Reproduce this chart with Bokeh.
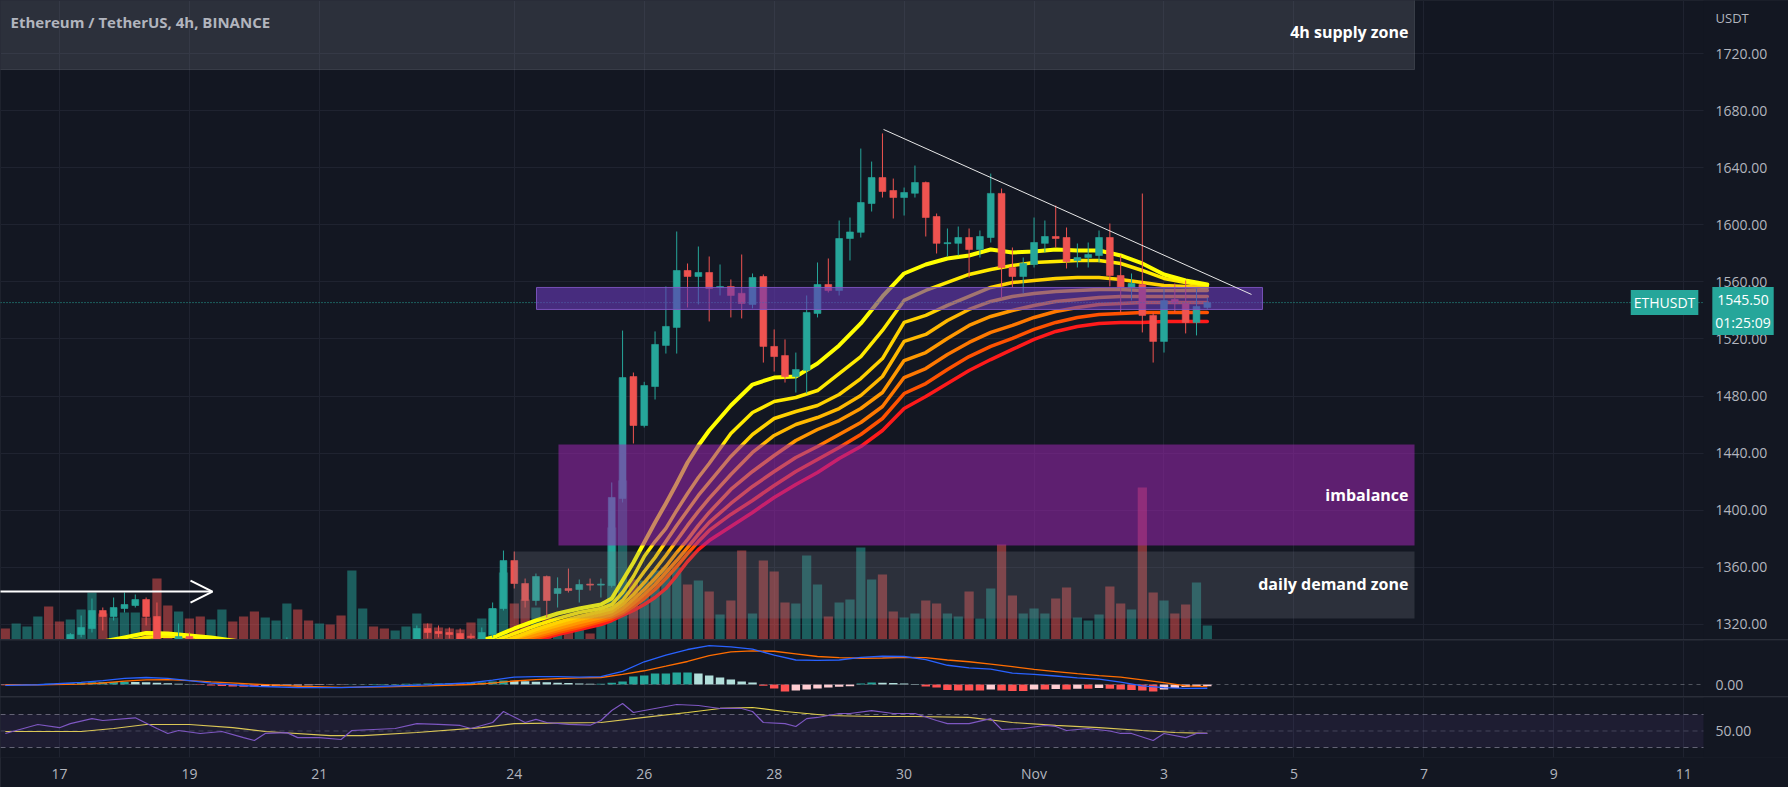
import numpy as np
import pandas as pd
from bokeh.plotting import figure
from bokeh.layouts import column
from bokeh.models import (Range1d, FixedTicker, NumeralTickFormatter, BoxAnnotation,
                          Label, Arrow, OpenHead, ColumnDataSource, Grid)
from bokeh.embed import file_html
from bokeh.resources import INLINE

BG = "#131722"; GRID = "#1f2330"; TXT = "#b2b5be"; TEAL = "#26a69a"; RED = "#ef5350"
FONT = "Open Sans"

# ---------------- data: ETHUSDT 4h candles, 2022-10-16 04:00 .. 2022-11-03 16:00 ----------------
times = pd.date_range("2022-10-16 04:00", "2022-11-03 16:00", freq="4h")

open_ = [1302,1301,1304,1306,1308,1302, 1300,1313.0,1317.2,1329.8,1325.6,1331.2,
         1333.3,1337.5,1325.6,1306,1300,1311.6, 1306,1297,1301,1305,1299,1291,
         1283,1290,1294,1298,1288,1285, 1289,1286,1276,1297,1300,1298,
         1296,1299,1303,1317.2,1315.1,1314.4, 1313.7,1311.8,1308,1313.0,1331.2,1364.8,
         1348.7,1336.8,1353.6,1341.7,1345.2,1344.5, 1348.3,1347.7,1347.3,1408.3,1493.7,1459.4,
         1486.7,1515.5,1528.1,1568.0,1563.8,1566.6, 1556.0,1556.8,1552.0,1544.2,1563.8,1514.8,
         1508.4,1493.7,1498.0,1537.9,1558.2,1554.0, 1590.4,1594.7,1614.9,1633.1,1624.0,1619.1,
         1622.1,1629.6,1605.8,1587.1,1587.0,1591.1, 1582.7,1591.1,1622.0,1570.1,1563.8,1572.2,
         1587.0,1591.8,1591.1,1575.0,1577.1,1578.5, 1591.1,1564.5,1556.1,1558.2,1536.5,1518.3,
         1547.7,1544.9,1531.6,1542.1]
high = [1306,1305,1307,1308.5,1309,1305, 1314,1326.3,1338.2,1331.9,1338.9,1342.4,
        1341.0,1338.9,1335.4,1309,1320.7,1314.4, 1308,1303,1307,1307,1301,1294,
        1292,1296,1311,1301,1291,1291, 1292,1288,1300,1304,1302,1300,
        1301,1306,1319.3,1320.7,1319.3,1317.9, 1317.2,1313.7,1317.9,1335.4,1371.8,1371.1,
        1352.2,1355.7,1354.3,1353.0,1359.2,1351.5, 1352.2,1352.2,1419.5,1525.9,1496.5,1490.0,
        1525.3,1556.8,1595.3,1572.9,1584.8,1577.8, 1572.2,1561.7,1579.2,1565.9,1565.2,1526.7,
        1519.7,1510.5,1550.5,1573.6,1576.4,1603.0, 1605.1,1653.4,1644.3,1664.0,1632.4,1626.1,
        1641.5,1630.3,1607.9,1597.4,1598.8,1597.4, 1596.0,1635.9,1625.4,1584.1,1577.1,1605.1,
        1603.0,1613.5,1598.1,1586.9,1587.6,1596.0, 1600.9,1578.5,1565.9,1621.9,1538.6,1555.4,
        1558.9,1561.0,1555.4,1549.1]
low = [1298,1299,1301,1303,1300,1298, 1298,1311,1314.4,1315.8,1322.8,1328.4,
       1331.9,1319.3,1302,1294,1297,1301, 1295,1293,1298,1297,1288,1280,
       1281,1288,1290,1285,1282,1283, 1283,1272,1273,1294,1296,1294,
       1295,1297,1301,1310.2,1310.9,1310.2, 1306,1308,1305,1310.9,1329.8,1345.2,
       1331.9,1333.3,1324.9,1331.9,1342.4,1335.4, 1343.8,1338.9,1345.9,1405.5,1446.8,1458.0,
       1477.6,1509.8,1509.8,1542.1,1544.2,1532.3, 1550.5,1535.1,1534.4,1541.4,1503.5,1497.2,
       1489.5,1482.5,1481.8,1535.1,1552.6,1550.5, 1575.0,1591.1,1609.3,1619.1,1604.4,1606.5,
       1619.1,1591.8,1579.9,1577.8,1578.5,1563.1, 1577.1,1587.6,1548.4,1556.1,1551.9,1570.1,
       1580.6,1584.1,1569.4,1570.1,1570.1,1573.6, 1556.8,1538.6,1547.0,1524.6,1503.5,1510.5,
       1538.6,1523.9,1522.5,1540.7]
close = [1301,1304,1306,1308,1302,1300, 1313.0,1317.9,1329.8,1325.6,1331.9,1334.0,
         1337.5,1325.6,1306,1298,1311.6,1306, 1297,1301,1305,1299,1291,1283,
         1290,1294,1298,1288,1285,1289, 1286,1276,1297,1300,1298,1296,
         1299,1303,1317.2,1314.4,1313.7,1313.0, 1309.5,1310.9,1314.4,1331.2,1364.8,1348.7,
         1336.8,1353.6,1336.8,1345.2,1343.8,1348.0, 1347.7,1348.3,1409.0,1493.0,1459.4,1487.4,
         1516.2,1528.8,1568.0,1563.8,1566.6,1555.4, 1556.8,1550.5,1544.9,1563.1,1514.8,1507.7,
         1493.7,1498.6,1538.6,1558.2,1554.0,1590.4, 1595.0,1615.6,1633.1,1623.3,1619.1,1622.6,
         1629.6,1605.1,1587.0,1587.5,1591.1,1582.7, 1591.8,1622.0,1570.1,1563.8,1572.9,1587.6,
         1591.8,1590.4,1574.3,1577.1,1579.2,1591.1, 1564.5,1556.1,1558.9,1536.5,1518.3,1546.9,
         1544.9,1531.6,1542.8,1545.5]
# volume (k ETH)
volume = [11,16,13,23,33,18, 20,30,47,26,22,27, 27,22,61,34,28,21, 23,20,30,18,23,28,
          22,19,36,30,19,16, 15,24,69,31,13,11, 9,13,26,16,12,11, 10,17,21,31,67,36,
          40,32,22,19,11,14, 6,19,112,159,60,59, 69,72,72,55,59,48, 25,39,89,26,79,68,
          37,36,84,55,23,37, 40,92,60,65,28,22, 26,39,36,26,23,48, 21,51,95,44,26,31,
          26,41,52,22,19,25, 53,36,30,152,47,39, 26,35,57,14]

# EMA ribbon (8 lines, fast -> slow), sampled at bar numbers (1 = first bar)
rib_n = [8,10,12,14,16,18,20,22,24,28,32,36,40,
         44,46,48,50,52,54,56,57,58,59,60,61,62,63,64,65,66,
         68,70,72,74,76,78,80,82,84,86,88,90,92,94,96,98,100,102,104,106,108,110,112]
rib_1 = [1305.3,1308.1,1310.9,1314.0,1313.7,1312.3,1310.9,1308.8,1306.7,1302,1299,1300,1303,
         1307.4,1310.9,1317.2,1322.8,1327.7,1331.2,1334.0,1338.2,1350.8,1363.4,1377.4,1391.5,1404.8,1418.8,1433.5,1445.4,1455.9,
         1473.4,1488.1,1493.0,1493.7,1502.8,1515.5,1530.9,1549.8,1565.9,1572.2,1576.4,1578.5,1582.7,1580.6,1581.3,1582.7,1582.0,1582.0,1578.5,1572.9,1565.2,1561.0,1558.2]
rib_2 = [1302,1305,1308,1311,1312,1311.5,1310,1308,1306,1303,1300,1300,1302,
         1305.3,1308.1,1313.7,1319.3,1324.2,1328.4,1331.2,1334.0,1342.4,1353.6,1367.6,1378.1,1387.3,1399.9,1411.8,1423.0,1432.8,
         1453.8,1468.5,1476.2,1479.0,1483.9,1495.8,1507.7,1526.0,1547.0,1554.0,1559.6,1565.2,1568.7,1571.5,1573.6,1574.3,1575.0,1575.0,1572.9,1568.0,1562.4,1559.6,1557.5]
rib_3 = [1299,1302,1305,1307,1308.5,1308.5,1308,1307,1305,1303,1300,1299,1300,
         1303.2,1306.0,1310.9,1316.5,1321.4,1325.6,1329.1,1331.2,1336.8,1346.6,1357.1,1366.9,1378.1,1389.4,1399.9,1410.4,1419.5,
         1437.7,1453.1,1464.3,1469.2,1473.4,1481.1,1492.3,1506.3,1531.6,1536.5,1543.5,1549.8,1556.1,1559.6,1561.0,1562.4,1563.1,1563.1,1561.7,1559.6,1557.5,1556.8,1556.1]
rib_4 = [1297,1300,1302,1304,1305.5,1306,1306,1305.5,1304.5,1302.5,1300,1298.5,1299.5,
         1302.5,1305.3,1310.2,1315.1,1319.3,1323.5,1327.0,1329.1,1334.0,1341.0,1349.4,1358.5,1368.3,1378.8,1389.4,1399.2,1408.3,
         1425.1,1440.5,1452.4,1460.1,1465.0,1471.3,1480.4,1493.7,1518.3,1523.2,1533.0,1540.7,1546.3,1549.8,1551.9,1553.3,1554.0,1554.7,1554.7,1554.0,1554.0,1554.0,1554.0]
rib_5 = [1295,1297.5,1300,1302,1303,1304,1304.5,1304,1303.5,1302,1300,1298.5,1299,
         1301.8,1304.6,1308.8,1313.0,1317.2,1321.4,1324.9,1327.0,1331.2,1337.5,1344.5,1352.2,1360.6,1370.4,1379.5,1389.4,1398.5,
         1414.6,1427.2,1438.4,1448.9,1456.6,1462.9,1471.3,1482.5,1504.9,1510.5,1520.4,1529.5,1535.8,1540.0,1543.5,1546.3,1547.7,1549.1,1549.8,1549.8,1549.8,1549.8,1549.8]
rib_6 = [1293,1295.5,1297.5,1299.5,1300.5,1301.5,1302,1302,1302,1301,1299.5,1298,1298.5,
         1300.4,1303.2,1307.4,1311.6,1315.8,1319.3,1323.5,1325.6,1329.1,1334.7,1341.0,1348.0,1356.4,1364.8,1373.9,1383.1,1391.5,
         1404.8,1416.7,1427.2,1437.0,1444.7,1453.1,1461.5,1472.7,1493.0,1499.3,1509.1,1517.6,1524.6,1529.5,1535.1,1539.3,1542.1,1544.2,1544.9,1545.6,1545.6,1545.6,1545.6]
rib_7 = [1291,1293,1295,1297,1298,1299,1300,1300,1300,1299.5,1298.5,1297.5,1297.5,
         1299.0,1301.8,1306.0,1310.2,1314.4,1317.9,1322.1,1324.2,1327.7,1332.6,1338.2,1344.5,1352.2,1360.6,1369.7,1378.1,1385.9,
         1397.1,1406.9,1417.4,1427.2,1435.6,1444.0,1453.1,1464.3,1481.8,1488.8,1498.6,1507.7,1514.8,1520.4,1526.7,1531.6,1535.1,1537.2,1537.9,1538.6,1538.6,1538.6,1538.6]
rib_8 = [1289,1291,1293,1295,1296,1297,1298,1298,1298.5,1298,1297.5,1296.5,1296.5,
         1297.6,1300.4,1304.6,1308.8,1313.0,1316.5,1320.0,1322.8,1326.3,1329.8,1334.0,1338.9,1345.2,1354.3,1364.1,1372.5,1378.8,
         1388.7,1398.5,1409.0,1418.1,1426.5,1436.3,1444.7,1455.9,1471.3,1479.7,1488.8,1497.9,1505.6,1512.7,1519.7,1525.3,1528.8,1530.9,1531.6,1531.6,1532.3,1532.3,1532.3]

# MACD pane
macd_n = [1,4,8,10,12,14,16,18,20,24,28,32,36,40,44,46,48,50,52,54,56,
          58,60,62,64,66,68,70,72,74,76,78,80,82,84,86,88,90,92,94,96,98,100,102,104,106,108,110,112]
macd_line = [-1.1,-0.3,2.5,4.5,7,8,7,4.5,1.5,-2,-3.5,-3.5,-2,-0.5,2,5,8.5,9.1,9,8.5,9,
             15,26,33.5,40,44.5,43,40.5,33.5,28,27.5,28,31,32.3,32,28.5,22,19,17.5,13,11.5,9.7,7.5,6.2,2.8,-1.5,-3.5,-4.5,-4.3]
signal_line = [-0.3,-0.5,0.5,1.7,3.8,5.4,5.6,4.5,3,0.5,-2,-3.3,-2.6,-1.6,0,1.5,4,5.5,6.8,7.5,8,
               11.6,15.7,20.9,26.3,33,37.3,38.5,38,35,32,30.7,30,30.3,31,30.8,28,26,23.2,20.4,17.2,14.8,12.4,10.2,8.5,5.4,2.2,-1.6,-2.4]
macd_hist = [-0.8,-0.6,-0.4,0.3,0.8,1.2,1.5,2.0,2.5,2.8,3.0,3.2,
             3.0,2.6,2.0,1.4,0.8,0.2,-0.6,-1.2,-1.8,-2.2,-2.5,-2.6,
             -2.3,-1.9,-1.5,-1.2,-0.9,-0.6,-0.4,-0.2,0.2,0.4,0.5,0.6,
             0.7,0.8,1.0,1.1,1.2,1.4,1.6,1.9,2.3,3.5,4.5,4.2,
             3.8,3.2,2.5,2.0,1.6,1.2,0.9,1.0,2.0,3.4,9.1,10.3,
             12.6,12.6,13.7,13.7,12.6,10.3,8.0,5.7,3.4,2.3,-1.5,-4.6,
             -8.0,-6.9,-5.7,-4.6,-3.4,-2.7,-2.0,1.1,2.3,2.0,1.8,1.1,
             0.6,-2.3,-3.4,-6.3,-6.9,-6.9,-6.9,-5.7,-6.9,-7.4,-7.4,-5.7,
             -5.7,-5.1,-5.7,-4.9,-4.9,-4.0,-4.9,-5.7,-6.3,-6.9,-8.0,-5.7,
             -4.0,-2.9,-2.3,-1.9]

# RSI pane
rsi_n = [1,4,6,7,9,10,13,15,16,17,19,21,23,24,25,27,28,30,32,33,35,37,39,41,43,44,46,47,49,50,
         51,53,55,56,57,58,59,61,63,65,67,69,70,71,73,74,75,76,78,79,81,83,85,87,88,90,92,93,95,97,
         98,99,101,103,104,105,107,108,110,111,112]
rsi_v = [47,57.9,54,59,65,62.7,66,53,47,50.6,47,49.4,42,38.5,47,48,42,42,39.7,50.6,51.8,53,59,58,56.7,53,60.3,73.6,60.3,64,
         60.3,58,57,62.7,74.8,83.3,72.4,77.3,82.1,80.9,77.3,77.3,73.6,60.3,59,55.5,65,66.4,71.2,71.2,74.8,71.2,71.2,62.7,59,59,65,51.8,53,56.7,
         55.5,50.6,53,50,47,47,38.5,47,42,47,47]
rsi_ma_n = [1,8,11,14,18,22,25,31,34,39,45,48,56,60,64,67,70,73,77,81,85,90,94,98,102,106,109,112]
rsi_ma_v = [49.4,49.4,53,57.9,57.9,54.2,49.4,44.5,44.5,48.2,54,59,60.3,66.4,72.4,77.3,78.5,73.6,68.8,67.6,67.6,66.4,60.3,56.7,54.2,50.6,48.2,47]

# axis ticks
date_ticks = [17, 19, 21, 24, 26, 28, 30, 32, 34, 36, 38, 40, 42]
date_labels = ["17", "19", "21", "24", "26", "28", "30", "Nov", "3", "5", "7", "9", "11"]
price_ticks = [1320, 1360, 1400, 1440, 1480, 1520, 1560, 1600, 1640, 1680, 1720]

# drawings (time in day-of-October units, price in USDT)
supply_zone = dict(left=15.9, right=37.856, bottom=1708.8, top=1800)
imbalance_zone = dict(left=24.68, right=37.856, bottom=1375.3, top=1446.1)
demand_zone = dict(left=23.988, right=37.856, bottom=1324.2, top=1371.1)
level_band = dict(left=24.342, right=35.516, bottom=1540.7, top=1556.1)
trend_line = dict(x_start=29.683, y_start=1666.8, x_end=35.347, y_end=1551.2)
arrow_line = dict(x_start=15.9, y_start=1343.1, x_end=19.355, y_end=1343.1)
last_price = 1545.5

# visible time window and price-scale position (day-of-October units)
X_START, SCALE_X, X_END = 16.092, 42.304, 43.612

# ---------------- derived ----------------
day = ((times - pd.Timestamp("2022-10-01")) / pd.Timedelta(days=1)).to_numpy() + 1.0
o = np.array(open_); h = np.array(high); l = np.array(low); c = np.array(close)
up = c >= o
top = np.maximum(o, c)
bot = np.minimum(o, c)
bot = np.where(top - bot < 0.7, top - 0.7, bot)
candle_src = ColumnDataSource(dict(x=day, h=h, l=l, top=top, bot=bot, vol=np.array(volume),
                                   col=np.where(up, TEAL, RED)))

xr = Range1d(X_START, X_END)


def style_axis(ax, standoff):
    ax.axis_line_color = None
    ax.major_tick_line_color = None
    ax.minor_tick_line_color = None
    ax.major_tick_out = 0
    ax.major_tick_in = 0
    ax.major_label_standoff = standoff
    ax.major_label_text_color = TXT
    ax.major_label_text_font = FONT
    ax.major_label_text_font_size = "14px"


def make_fig(height, yr, yticks, bottom=0):
    f = figure(width=1788, height=height, x_range=xr, y_range=yr,
               output_backend="svg", toolbar_location=None, title=None,
               x_axis_location=("below" if bottom else None), y_axis_location="right",
               min_border_left=0, min_border_right=0, min_border_top=0,
               min_border_bottom=bottom,
               background_fill_color=BG, border_fill_color=BG, outline_line_color=None)
    for g in f.xgrid + f.ygrid:
        g.visible = False
    f.add_layout(Grid(dimension=0, ticker=FixedTicker(ticks=date_ticks),
                      grid_line_color=GRID, grid_line_width=1))
    ya = f.yaxis[0]
    ya.fixed_location = SCALE_X
    ya.ticker = FixedTicker(ticks=yticks)
    ya.formatter = NumeralTickFormatter(format="0.00")
    style_axis(ya, 12)
    return f


def cover_scale(f):
    # price-scale strip: plain background (kept under glyphs, axis and labels)
    f.add_layout(BoxAnnotation(left=SCALE_X, right=X_END + 1, fill_color=BG, fill_alpha=1.0,
                               line_alpha=0, level="underlay"))


# ---------------- main price pane ----------------
p1 = make_fig(639, Range1d(1309.49, 1757.13), price_ticks)
p1.add_layout(Grid(dimension=1, ticker=FixedTicker(ticks=price_ticks),
                   grid_line_color=GRID, grid_line_width=1))
cover_scale(p1)
p1.extra_y_ranges = {"vol": Range1d(0, 639)}

# volume
p1.vbar(x="x", width=0.142, top="vol", bottom=0, y_range_name="vol", source=candle_src,
        fill_color="col", fill_alpha=0.5, line_color=None)

# EMA ribbon
ribbons = [rib_1, rib_2, rib_3, rib_4, rib_5, rib_6, rib_7, rib_8]
rib_colors = ["#ffff00", "#ffea00", "#ffd200", "#ffb800", "#ff9800", "#ff7800", "#ff5200", "#ff1a1a"]
rib_widths = [4, 3.5, 3.5, 3.5, 3.5, 3.5, 3.5, 3.5]
rx = day[np.array(rib_n) - 1]
for vals, colr, w in reversed(list(zip(ribbons, rib_colors, rib_widths))):
    p1.line(rx, vals, line_color=colr, line_width=w, line_join="round", line_cap="round")

# candles
p1.segment(x0="x", y0="h", x1="x", y1="l", line_color="col", line_width=1, source=candle_src)
p1.vbar(x="x", width=0.105, top="top", bottom="bot", fill_color="col", line_color="col",
        line_width=0.6, source=candle_src)

# last price line
p1.segment(x0=[X_START], y0=[last_price], x1=[SCALE_X], y1=[last_price], line_color=TEAL,
           line_dash="1 2", line_width=1)

# zones
p1.add_layout(BoxAnnotation(**supply_zone, fill_color="#787b86", fill_alpha=0.25,
                            line_color="#787b86", line_alpha=0.3))
p1.add_layout(BoxAnnotation(**imbalance_zone, fill_color="#9c27b0", fill_alpha=0.55,
                            line_alpha=0))
p1.add_layout(BoxAnnotation(**demand_zone, fill_color="#787b86", fill_alpha=0.25,
                            line_alpha=0))
p1.add_layout(BoxAnnotation(**level_band, fill_color="#673ab7", fill_alpha=0.62,
                            line_color="#7e57c2", line_alpha=0.9, line_width=1))

# drawn lines
p1.add_layout(Arrow(end=None, **trend_line, line_color="#e8e8e8", line_width=1))
p1.add_layout(Arrow(end=OpenHead(size=22, line_color="white", line_width=2),
                    **arrow_line, line_color="white", line_width=2))

# zone texts
for txt, y in [("4h supply zone", 1735.4), ("imbalance", 1410.5), ("daily demand zone", 1348.5)]:
    p1.add_layout(Label(x=37.763, y=y, text=txt, text_align="right", text_baseline="middle",
                        text_color="white", text_font=FONT, text_font_size="16px",
                        text_font_style="bold"))

# header, currency and price tags
p1.add_layout(Label(x=16.246, y=1742.4, text="Ethereum / TetherUS, 4h, BINANCE",
                    text_align="left", text_baseline="middle", text_color=TXT,
                    text_font=FONT, text_font_size="15px", text_font_style="bold"))
p1.add_layout(Label(x=42.489, y=1745.2, text="USDT", text_align="left", text_baseline="middle",
                    text_color=TXT, text_font=FONT, text_font_size="13px"))
p1.add_layout(Label(x=41.704, y=last_price, text="ETHUSDT", text_align="center",
                    text_baseline="middle", text_color="white", text_font=FONT,
                    text_font_size="14px", background_fill_color=TEAL, padding=3))
p1.add_layout(Label(x=42.912, y=1539.6, text="1545.50\n01:25:09", text_align="center",
                    text_baseline="middle", text_color="white", text_font=FONT,
                    text_font_size="14px", background_fill_color=TEAL, padding=3))

# ---------------- MACD pane ----------------
p2 = make_fig(56, Range1d(-13.71, 50.29), [0])
cover_scale(p2)
hist = np.array(macd_hist)
prev = np.concatenate([[hist[0]], hist[:-1]])
hcol = np.where(hist >= 0, np.where(hist >= prev, "#26a69a", "#b2dfdb"),
                np.where(hist <= prev, "#ff5252", "#ffcdd2"))
p2.vbar(x=day, top=hist, bottom=0, width=0.13, fill_color=hcol, line_color=None)
p2.segment(x0=[X_START], y0=[0], x1=[SCALE_X], y1=[0], line_color="#787b86",
           line_dash="4 4", line_alpha=0.6, line_width=1)
mx = day[np.array(macd_n) - 1]
p2.line(mx, signal_line, line_color="#ff6d00", line_width=1.3)
p2.line(mx, macd_line, line_color="#2962ff", line_width=1.3)

# ---------------- RSI pane ----------------
p3 = make_fig(90, Range1d(17.88, 90.6), [50], bottom=30)
cover_scale(p3)
p3.add_layout(BoxAnnotation(left=X_START - 1, right=SCALE_X, bottom=30, top=70,
                            fill_color="#7e57c2", fill_alpha=0.1, line_alpha=0))
rsi_levels = [70, 50, 30]
p3.segment(x0=[X_START] * 3, y0=rsi_levels, x1=[SCALE_X] * 3, y1=rsi_levels,
           line_color="#787b86", line_dash="5 4", line_alpha=[0.8, 0.45, 0.8], line_width=1)
p3.line(day[np.array(rsi_ma_n) - 1], rsi_ma_v, line_color="#e6d44a", line_width=1.2)
p3.line(day[np.array(rsi_n) - 1], rsi_v, line_color="#7e57c2", line_width=1.2)
xa = p3.xaxis[0]
xa.ticker = FixedTicker(ticks=date_ticks)
xa.major_label_overrides = {t: s for t, s in zip(date_ticks, date_labels)}
style_axis(xa, 6)

layout = column(p1, p2, p3, spacing=1, styles={"background-color": "#2a2e39"})
open("out.html", "w").write(file_html(layout, INLINE, title="ETHUSDT 4h"))
